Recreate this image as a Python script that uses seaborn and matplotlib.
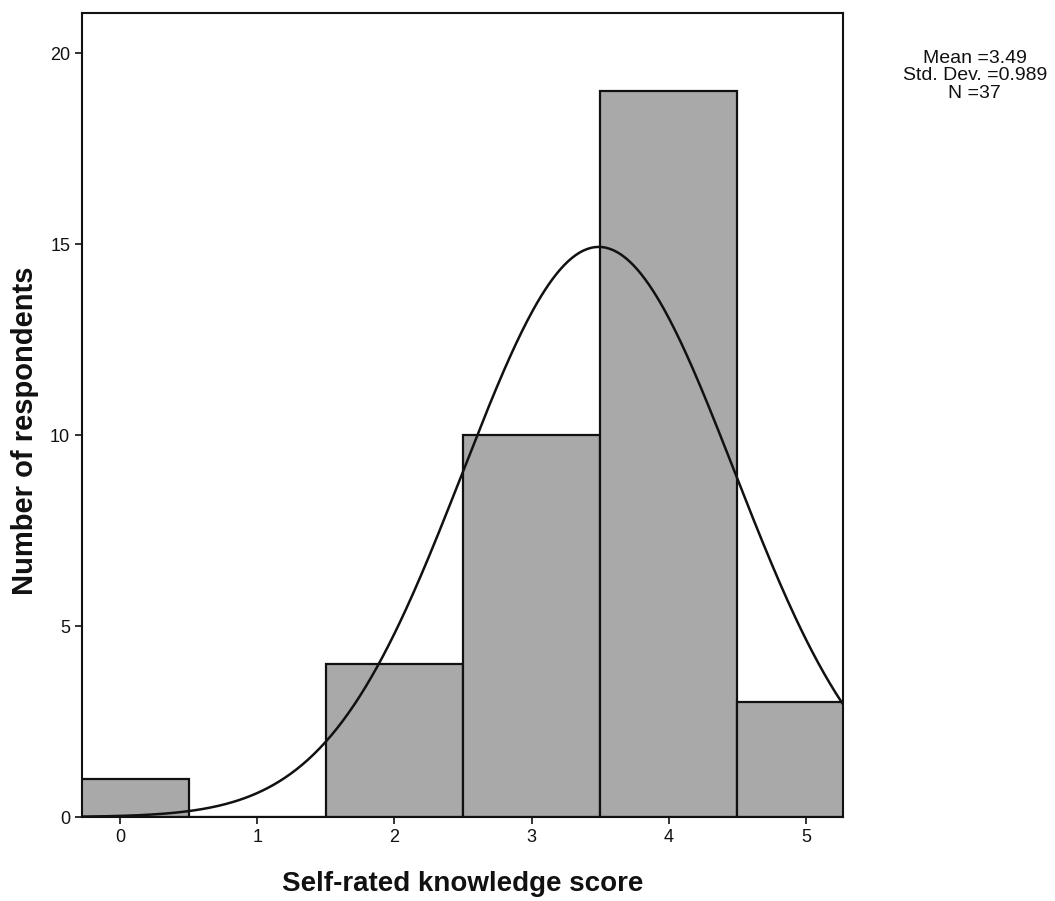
import numpy as np
import pandas as pd
import matplotlib
matplotlib.use("Agg")
import matplotlib.pyplot as plt
import seaborn as sns

scores = [0, 1, 2, 3, 4, 5]
counts = [1, 0, 4, 10, 19, 3]
mean_val = 3.49
sd_val = 0.989
n_val = 37
x_ticks = [0, 1, 2, 3, 4, 5]
y_ticks = [0, 5, 10, 15, 20]

sns.set_theme(style="white")
plt.rcParams['font.family'] = ['Liberation Sans', 'DejaVu Sans']

fig = plt.figure(figsize=(10.55, 9.01), dpi=100)
ax = fig.add_axes([0.0777, 0.0932, 0.7213, 0.8924])

df = pd.DataFrame({"score": scores, "count": counts})
sns.histplot(data=df, x="score", weights="count", discrete=True,
             color="#a9a9a9", edgecolor="#111111", linewidth=1.6, alpha=1.0, ax=ax)

xs = np.linspace(-0.3, 5.3, 400)
ys = n_val * 1.0 / (sd_val * np.sqrt(2 * np.pi)) * np.exp(-0.5 * ((xs - mean_val) / sd_val) ** 2)
sns.lineplot(x=xs, y=ys, color="#111111", linewidth=1.8, ax=ax)

ax.set_xlim(-0.277, 5.27)
ax.set_ylim(0, 21.05)
ax.set_xticks(x_ticks)
ax.set_yticks(y_ticks)
ax.tick_params(axis="both", direction="out", length=5, width=1.2, color="#111111",
               labelsize=13, labelcolor="#111111", bottom=True, left=True)
for s in ax.spines.values():
    s.set_color("#111111")
    s.set_linewidth(1.5)
ax.set_xlabel("Self-rated knowledge score", fontsize=20, fontweight="bold",
              labelpad=18, color="#111111")
ax.set_ylabel("Number of respondents", fontsize=21, fontweight="bold",
              color="#111111")
ax.yaxis.set_label_coords(-0.057, 0.48)

fig.text(0.924, 0.945, f"Mean ={mean_val}\nStd. Dev. ={sd_val}\nN ={n_val}",
         ha="center", va="top", fontsize=14, color="#111111", linespacing=1.05)

fig.savefig("out.png", dpi=100, facecolor="white")
